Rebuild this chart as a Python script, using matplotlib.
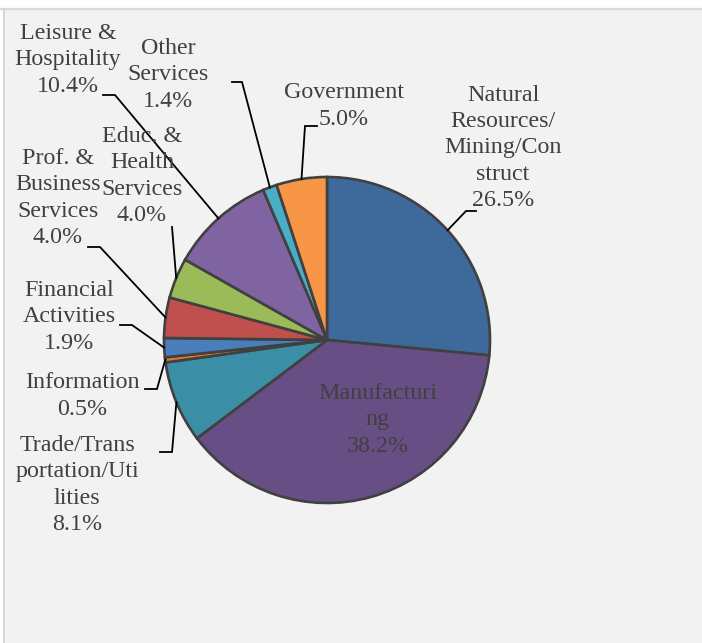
import matplotlib
matplotlib.use("Agg")
import matplotlib.pyplot as plt
import numpy as np
from matplotlib.patches import Rectangle

# ---------------- data ----------------
sectors = ["Natural\nResources/\nMining/Con\nstruct", "Manufacturi\nng",
           "Trade/Trans\nportation/Uti\nlities", "Information",
           "Financial\nActivities", "Prof. &\nBusiness\nServices",
           "Educ. &\nHealth\nServices", "Leisure &\nHospitality",
           "Other\nServices", "Government"]
shares = [26.5, 38.2, 8.1, 0.5, 1.9, 4.0, 4.0, 10.4, 1.4, 5.0]
colors = ["#3e6a9b", "#674f85", "#3a8ea6", "#e07a2a", "#4a7ebb",
          "#c0504d", "#9bbb59", "#8064a2", "#4bacc6", "#f79646"]

# ---------------- layout (pixel units, y measured from top) ----------------
W, H = 702, 643
cx, cy_top, R = 327, 340, 163
# label block centers
label_pos = [(503, 148), (378, 420), (77, 485), (82, 396), (69, 317),
             (58, 198), (142, 176), (68, 60), (168, 75), (344, 106)]
# leader start and elbow points (None = label inside slice)
leader_start = [(476, 211), None, (160, 452), (145, 389), (120, 325),
                (88, 247), (172, 227), (103, 95), (232, 82), (317, 126)]
leader_elbow = [(466, 211), None, (172, 452), (157, 389), (132, 325),
                (100, 247), (172, 227), (115, 95), (242, 82), (305, 126)]

def Y(y):
    return H - y

fig = plt.figure(figsize=(W / 100, H / 100), dpi=100, facecolor="white")
ax = fig.add_axes([0, 0, 1, 1])

# chart area background and borders
ax.add_patch(Rectangle((5, 0), W - 5, Y(10), facecolor="#f2f2f2",
                       edgecolor="none", zorder=0))
ax.plot([0, W], [Y(8.5), Y(8.5)], color="#d9d9d9", lw=1.6, zorder=1,
        solid_capstyle="butt")
ax.plot([4, 4], [0, Y(8.5)], color="#d4d4d4", lw=1.4, zorder=1,
        solid_capstyle="butt")

wedges, _ = ax.pie(shares, colors=colors, startangle=90, counterclock=False,
                   center=(cx, Y(cy_top)), radius=R,
                   wedgeprops=dict(edgecolor="#404040", linewidth=1.9))

font = dict(family=["Liberation Serif", "DejaVu Serif"], size=17.3,
            color="#404040")

for i, w in enumerate(wedges):
    txt = f"{sectors[i]}\n{shares[i]:.1f}%"
    lx, ly = label_pos[i]
    ax.text(lx, Y(ly), txt, ha="center", va="center", multialignment="center",
            linespacing=1.34, zorder=5, **font)
    if leader_start[i] is not None:
        mid = np.deg2rad((w.theta1 + w.theta2) / 2)
        ex = w.center[0] + w.r * np.cos(mid)
        ey = w.center[1] + w.r * np.sin(mid)
        sx, sy = leader_start[i]
        bx, by = leader_elbow[i]
        ax.plot([sx, bx, ex], [Y(sy), Y(by), ey], color="black", lw=1.3,
                zorder=4, solid_joinstyle="miter")

ax.set_xlim(0, W)
ax.set_ylim(0, H)
ax.set_aspect("equal")
ax.set_axis_off()

fig.savefig("out.png", dpi=100, facecolor="white")
